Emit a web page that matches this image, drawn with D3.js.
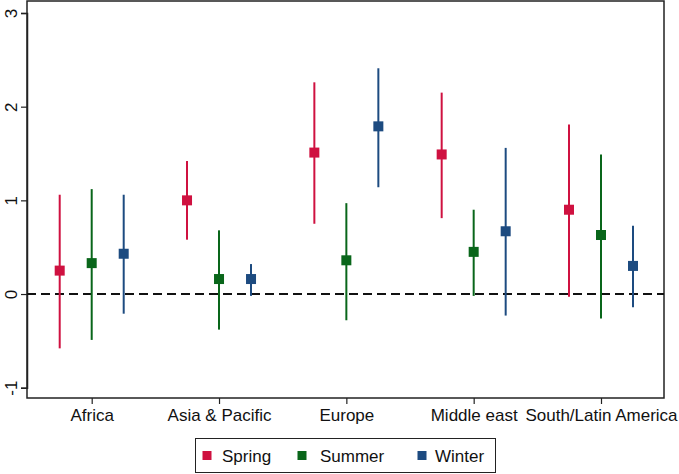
<!DOCTYPE html>
<html><head><meta charset="utf-8">
<script src="https://cdn.jsdelivr.net/npm/d3@7"></script>
<style>body{margin:0;background:#fff;font-family:"Liberation Sans",Arial,sans-serif;}</style>
</head><body><svg id="c" width="679" height="474"></svg>
<script>
const regions = ["Africa","Asia & Pacific","Europe","Middle east","South/Latin America"];
const seasons = ["Spring","Summer","Winter"];
const colors = ["#cf1140","#09661a","#1d4b80"];
const springEst = [0.25, 1.00, 1.51, 1.49, 0.90];
const springLo  = [-0.58, 0.58, 0.75, 0.81, -0.03];
const springHi  = [1.06, 1.42, 2.26, 2.15, 1.81];
const summerEst = [0.33, 0.16, 0.36, 0.45, 0.63];
const summerLo  = [-0.49, -0.38, -0.28, -0.02, -0.26];
const summerHi  = [1.12, 0.68, 0.97, 0.90, 1.49];
const winterEst = [0.43, 0.16, 1.79, 0.67, 0.30];
const winterLo  = [-0.21, -0.02, 1.14, -0.23, -0.14];
const winterHi  = [1.06, 0.32, 2.41, 1.56, 0.73];
const yTicks = [-1, 0, 1, 2, 3];

const series = [
  {est: springEst, lo: springLo, hi: springHi},
  {est: summerEst, lo: summerLo, hi: summerHi},
  {est: winterEst, lo: winterLo, hi: winterHi}
];
const pts = [];
series.forEach((s, si) => regions.forEach((r, ri) => pts.push({region: r, season: seasons[si], color: colors[si], est: s.est[ri], lo: s.lo[ri], hi: s.hi[ri]})));

const FONT = "Liberation Sans, Arial, sans-serif";
const svg = d3.select("#c");
const L = 27, R = 664, T = 1, B = 398;
const x = d3.scalePoint().domain(regions).range([91.7, 601]);
const off = d3.scalePoint().domain(seasons).range([-32, 32]);
const y = d3.scaleLinear().domain([-1, 3]).range([387.7, 13]);

// frame
svg.append("rect").attr("x", L).attr("y", T).attr("width", R - L).attr("height", B - T)
  .attr("fill", "none").attr("stroke", "#222").attr("stroke-width", 1.5);

// y axis
const ya = svg.append("g").attr("transform", `translate(${L},0)`)
  .call(d3.axisLeft(y).tickValues(yTicks).tickSize(6).tickFormat(d => String(d)));
ya.select(".domain").attr("stroke", "#222").attr("stroke-width", 1.5);
ya.selectAll(".tick line").attr("stroke", "#222").attr("stroke-width", 1.2);
ya.selectAll(".tick text").attr("font-size", 17).attr("font-family", FONT)
  .attr("fill", "#111").attr("x", 0).attr("dy", 0).attr("text-anchor", "middle")
  .attr("transform", "translate(-16,0) rotate(-90)").attr("dominant-baseline", "central");

// x axis
const xa = svg.append("g").attr("transform", `translate(0,${B})`)
  .call(d3.axisBottom(x).tickSize(6).tickPadding(5));
xa.select(".domain").remove();
xa.selectAll(".tick line").attr("stroke", "#222").attr("stroke-width", 1.2);
xa.selectAll(".tick text").attr("font-size", 17).attr("fill", "#111").attr("font-family", FONT);

// zero line
svg.append("line").attr("x1", L).attr("x2", R).attr("y1", y(0)).attr("y2", y(0))
  .attr("stroke", "#111").attr("stroke-width", 2).attr("stroke-dasharray", "9,5");

// CI
svg.selectAll(".ci").data(pts).enter().append("line")
  .attr("x1", d => x(d.region) + off(d.season)).attr("x2", d => x(d.region) + off(d.season))
  .attr("y1", d => y(d.lo)).attr("y2", d => y(d.hi))
  .attr("stroke", d => d.color).attr("stroke-width", 2);
// points
const ms = 10;
svg.selectAll(".pt").data(pts).enter().append("rect")
  .attr("x", d => x(d.region) + off(d.season) - ms / 2).attr("y", d => y(d.est) - ms / 2)
  .attr("width", ms).attr("height", ms).attr("fill", d => d.color);

// legend
const lg = svg.append("g");
lg.append("rect").attr("x", 195.5).attr("y", 438.5).attr("width", 300).attr("height", 34)
  .attr("fill", "#fff").attr("stroke", "#222").attr("stroke-width", 1);
const lx = [207, 302, 422];
const tx = [222, 320, 435];
seasons.forEach((s, i) => {
  lg.append("rect").attr("x", lx[i] - 4.5).attr("y", 451).attr("width", 9).attr("height", 9).attr("fill", colors[i]);
  lg.append("text").attr("x", tx[i]).attr("y", 462).attr("font-size", 17).attr("fill", "#111")
    .attr("font-family", FONT).text(s);
});
</script></body></html>
